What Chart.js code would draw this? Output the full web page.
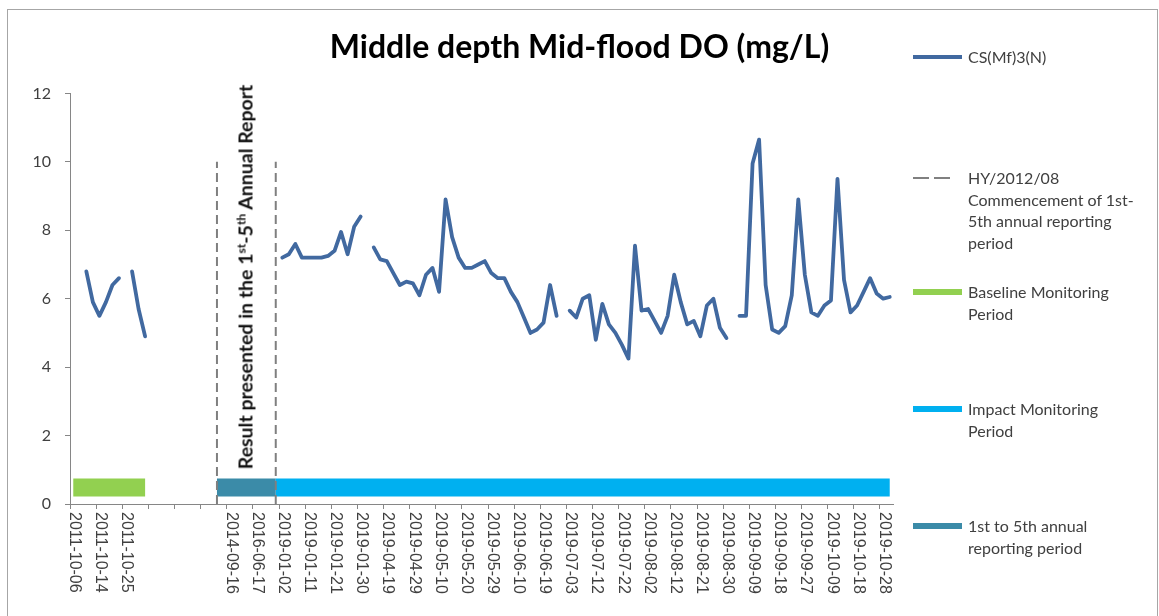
<!DOCTYPE html>
<html>
<head>
<meta charset="utf-8">
<script src="https://cdn.jsdelivr.net/npm/chart.js@4"></script>
<style>
  body { margin: 0; background: #fff; }
  #wrap { position: relative; width: 1159px; height: 616px; overflow: hidden; background: #fff; }
  #frame { position: absolute; left: 7px; top: 9px; width: 1149px; height: 640px; border: 1px solid #a6a6a6; pointer-events: none; }
  #note { position: absolute; left: 245px; top: 277px; transform: translate(-50%, -50%) rotate(-90deg);
          white-space: nowrap; font: bold 19.5px Lato, sans-serif; color: #111; }
  #note sup { font-size: 12px; vertical-align: 7px; line-height: 0; }
  .item { position: absolute; left: 968px; font: 16px Lato, sans-serif; line-height: 21.5px; color: #404040; }
  .swatch { position: absolute; left: 913px; width: 49px; }
</style>
</head>
<body>
<div id="wrap">
  <canvas id="doChart" width="1159" height="616"></canvas>
  <div id="note">Result presented in the 1<sup>st</sup>-5<sup>th</sup> Annual Report</div>

  <div class="swatch" style="top:55px;height:3.5px;background:#4169a0"></div>
  <div class="item" style="top:46px">CS(Mf)3(N)</div>

  <div class="swatch" style="top:177px;height:2px;width:16px;background:#808080"></div>
  <div class="swatch" style="top:177px;height:2px;width:16px;left:934px;background:#808080"></div>
  <div class="item" style="top:167px">HY/2012/08<br>Commencement of 1st-<br>5th annual reporting<br>period</div>

  <div class="swatch" style="top:289px;height:6px;background:#92d050"></div>
  <div class="item" style="top:281px">Baseline Monitoring<br>Period</div>

  <div class="swatch" style="top:406px;height:6px;background:#00b0f0"></div>
  <div class="item" style="top:398px">Impact Monitoring<br>Period</div>

  <div class="swatch" style="top:523px;height:6px;background:#3b8ba8"></div>
  <div class="item" style="top:515px">1st to 5th annual<br>reporting period</div>

  <div id="frame"></div>
</div>
<script>
// x axis: one label every 4th category
const categoryCount = 126;
const labelStep = 4;
const tickLabels = [
  "2011-10-06", "2011-10-14", "2011-10-25", "", "", "",
  "2014-09-16", "2016-06-17",
  "2019-01-02", "2019-01-11", "2019-01-21", "2019-01-30", "2019-04-19", "2019-04-29",
  "2019-05-10", "2019-05-20", "2019-05-29", "2019-06-10", "2019-06-19", "2019-07-03",
  "2019-07-12", "2019-07-22", "2019-08-02", "2019-08-12", "2019-08-21", "2019-08-30",
  "2019-09-09", "2019-09-18", "2019-09-27", "2019-10-09", "2019-10-18", "2019-10-28"
];

// DO values (mg/L), baseline categories 0-11
const baselineDO = [null, null, 6.8, 5.9, 5.5, 5.9, 6.4, 6.6, null, 6.8, 5.7, 4.9];

// impact monitoring, categories 32-125
const impactStart = 32;
const impactDO = [
  7.2, 7.3, 7.6, 7.2, 7.2, 7.2, 7.2, 7.25, 7.4, 7.95, 7.3, 8.1, 8.4, null,
  7.5, 7.15, 7.1, 6.75, 6.4, 6.5, 6.45, 6.1, 6.7, 6.9, 6.2, 8.9, 7.8, 7.2,
  6.9, 6.9, 7.0, 7.1, 6.75, 6.6, 6.6, 6.2, 5.9, 5.45, 5.0, 5.1, 5.3, 6.4, 5.5, null,
  5.65, 5.45, 6.0, 6.1, 4.8, 5.85, 5.25, 5.0, 4.65, 4.25, 7.55, 5.65, 5.7, 5.35,
  5.0, 5.5, 6.7, 5.9, 5.25, 5.35, 4.9, 5.8, 6.0, 5.15, 4.85, null,
  5.5, 5.5, 9.95, 10.65, 6.4, 5.1, 5.0, 5.2, 6.1, 8.9, 6.7, 5.6, 5.5, 5.8,
  5.95, 9.5, 6.55, 5.6, 5.8, 6.2, 6.6, 6.15, 6.0, 6.05
];

// periods as [first, last] category, drawn as thick lines at periodLevel
const baselinePeriod = [0, 11];
const reportingPeriod = [22, 31];
const impactPeriod = [31, 125];
const periodLevel = 0.48;

// dashed markers (HY/2012/08 commencement, end of 1st-5th reporting period)
const markerCategories = [22, 31];
const markerTop = 10;

const categories = Array.from({ length: categoryCount }, (_, i) =>
  i % labelStep === 0 ? tickLabels[i / labelStep] : "");
const doSeries = categories.map((_, i) =>
  i < baselineDO.length ? baselineDO[i] : (i >= impactStart ? impactDO[i - impactStart] : null));

const periodLine = (range, color) => ({
  data: [{ x: range[0], y: periodLevel }, { x: range[1], y: periodLevel }],
  parsing: false,
  borderColor: color,
  borderWidth: 18,
  borderCapStyle: "butt",
  pointRadius: 0,
});

const markerLine = (cat) => ({
  data: [{ x: cat, y: 0 }, { x: cat, y: markerTop }],
  parsing: false,
  borderColor: "#7f7f7f",
  borderWidth: 2,
  borderDash: [9, 5],
  pointRadius: 0,
});

// rotated x labels, reading top to bottom
const xLabels = {
  id: "xLabels",
  afterDraw(chart) {
    const { ctx, scales: { x } } = chart;
    ctx.save();
    ctx.font = '16px "Liberation Sans", Arial, sans-serif';
    ctx.fillStyle = "#404040";
    ctx.textAlign = "left";
    ctx.textBaseline = "middle";
    categories.forEach((label, i) => {
      if (!label) return;
      ctx.save();
      ctx.translate(x.getPixelForValue(i) + 1, x.top + 8);
      ctx.rotate(Math.PI / 2);
      ctx.fillText(label, 0, 0);
      ctx.restore();
    });
    ctx.restore();
  },
};

new Chart(document.getElementById("doChart"), {
  type: "line",
  data: {
    labels: categories,
    datasets: [
      {
        label: "CS(Mf)3(N)",
        data: doSeries,
        borderColor: "#4169a0",
        borderWidth: 3.8,
        borderJoinStyle: "round",
        borderCapStyle: "round",
        pointRadius: 0,
        tension: 0,
        spanGaps: false,
      },
      markerLine(markerCategories[0]),
      markerLine(markerCategories[1]),
      periodLine(baselinePeriod, "#92d050"),
      periodLine(reportingPeriod, "#3b8ba8"),
      periodLine(impactPeriod, "#00b0f0"),
    ],
  },
  options: {
    responsive: false,
    animation: false,
    devicePixelRatio: 1,
    layout: { padding: 0 },
    plugins: {
      legend: { display: false },
      tooltip: { enabled: false },
      title: {
        display: true,
        text: "Middle depth Mid-flood DO (mg/L)",
        color: "#000",
        font: { family: "Lato", size: 32, weight: "bold" },
        padding: { top: 28, bottom: 27 },
      },
    },
    scales: {
      x: {
        type: "category",
        offset: true,
        afterFit: (s) => { s.height = 112; },
        ticks: { display: false },
        grid: {
          offset: true,
          drawOnChartArea: false,
          tickLength: 5,
          color: (c) => (c.index % labelStep === 0 ? "#868686" : "rgba(0,0,0,0)"),
        },
        border: { color: "#868686", width: 1 },
      },
      y: {
        min: 0,
        max: 12,
        afterFit: (s) => { s.width = 70; },
        ticks: {
          stepSize: 2,
          padding: 14,
          color: "#404040",
          font: { family: "Lato", size: 16 },
        },
        grid: { drawOnChartArea: false, tickLength: 5, color: "#868686" },
        border: { color: "#868686", width: 1 },
      },
      // empty right-hand box that keeps room for the legend
      legendSpace: {
        position: "right",
        display: true,
        afterFit: (s) => { s.width = 266; },
        ticks: { display: false },
        grid: { display: false },
        border: { display: false },
      },
    },
  },
  plugins: [xLabels],
});
</script>
</body>
</html>
